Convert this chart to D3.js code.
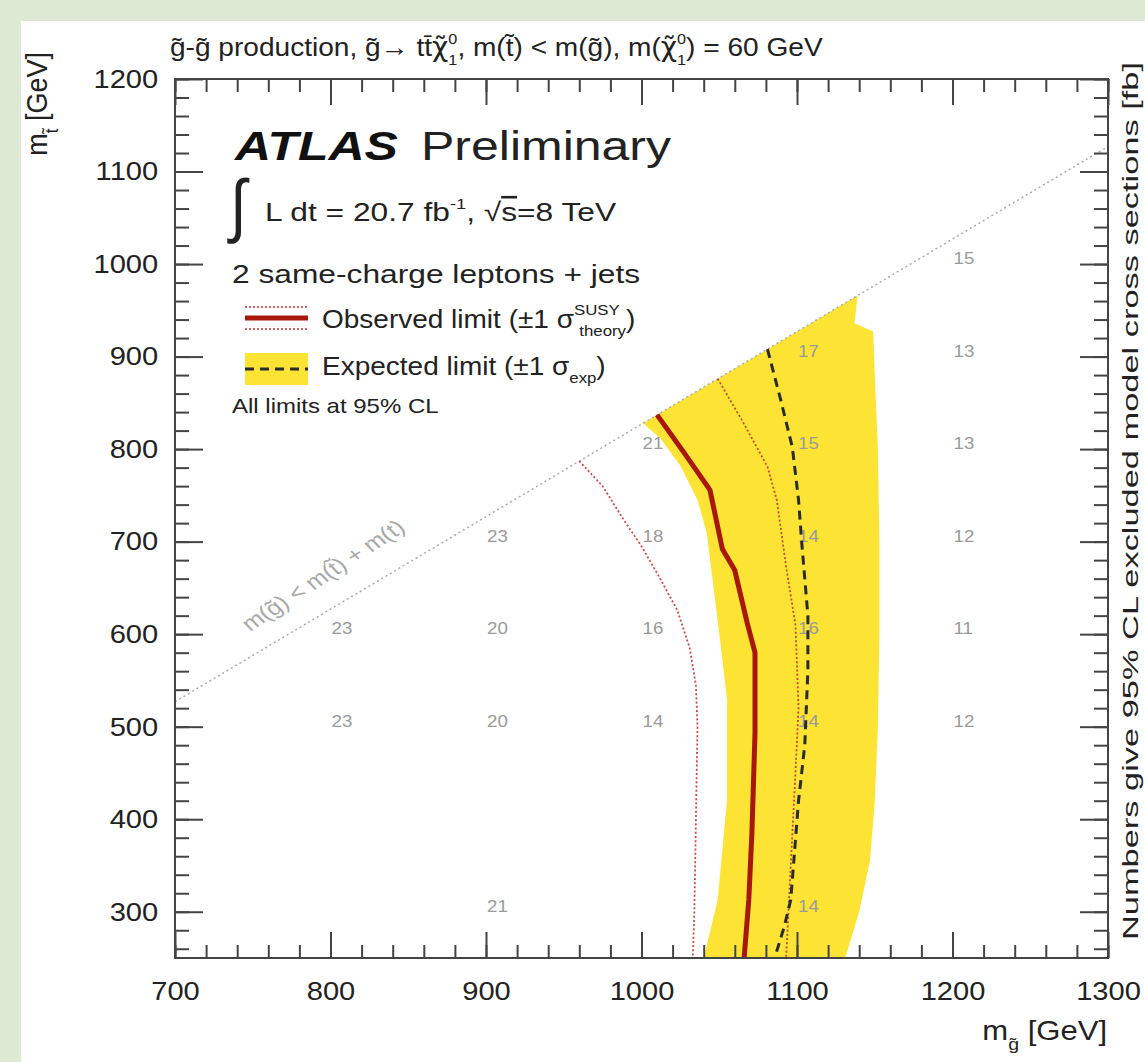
<!DOCTYPE html>
<html>
<head>
<meta charset="utf-8">
<script src="https://cdn.jsdelivr.net/npm/d3@7"></script>
<style>
  body { margin: 0; background: #dee9d3; }
  text { font-family: "Liberation Sans", Arial, sans-serif; }
</style>
</head>
<body>
<svg id="chart" width="1145" height="1062"></svg>
<script>
// ---- data (GeV) ----
const xTicks = [700, 800, 900, 1000, 1100, 1200, 1300];
const yTicks = [300, 400, 500, 600, 700, 800, 900, 1000, 1100, 1200];
const topMass = 173; // kinematic edge m(gluino) = m(stop) + m(top)

// expected +-1 sigma band: left edge (top -> bottom), right edge (bottom -> top)
const bandLeft = [[1001, 828], [1012, 812], [1025, 782], [1036, 745], [1042, 709], [1046, 655],
  [1050, 601], [1055, 529], [1055, 421], [1049, 313], [1040, 250]];
const bandRight = [[1131, 250], [1140, 300], [1147, 356], [1150, 420], [1152, 500], [1153, 600],
  [1153, 700], [1152, 800], [1150, 880], [1149, 927], [1137, 936], [1139, 966]];

const observed = [[1010, 837], [1027, 797], [1044, 756], [1052, 692], [1060, 669], [1068, 612],
  [1073, 580], [1073, 493], [1071, 385], [1069, 313], [1066, 250]];
const observedUp = [[1049, 876], [1065, 830], [1081, 781], [1087, 745], [1093, 673], [1099, 610],
  [1101, 520], [1099, 450], [1096, 350], [1093, 250]];
const observedDown = [[960, 787], [975, 760], [988, 725], [1000, 695], [1012, 660], [1023, 626],
  [1031, 585], [1035, 545], [1036, 500], [1035, 400], [1034, 300], [1033, 250]];
const expected = [[1081, 908], [1090, 850], [1097, 802], [1101, 745], [1103, 700], [1107, 620],
  [1107, 560], [1105, 480], [1101, 420], [1096, 313], [1092, 285], [1086, 252]];

// excluded cross sections [fb] at (m_gluino, m_stop)
const xsecLabels = [
  [1200, 1000, 15],
  [1100, 900, 17], [1200, 900, 13],
  [1000, 800, 21], [1100, 800, 15], [1200, 800, 13],
  [900, 700, 23], [1000, 700, 18], [1100, 700, 14], [1200, 700, 12],
  [800, 600, 23], [900, 600, 20], [1000, 600, 16], [1100, 600, 16], [1200, 600, 11],
  [800, 500, 23], [900, 500, 20], [1000, 500, 14], [1100, 500, 14], [1200, 500, 12],
  [900, 300, 21], [1100, 300, 14]
];

// ---- drawing ----
const SX = 1.2; // the picture is stretched sideways, text too
const svg = d3.select("#chart");
svg.append("rect").attr("x", 21).attr("y", 21).attr("width", 1124).attr("height", 1041).attr("fill", "#fff");

const x = d3.scaleLinear().domain([700, 1300]).range([175, 1108]);
const y = d3.scaleLinear().domain([250, 1200]).range([958, 79]);

svg.append("clipPath").attr("id", "plot")
  .append("rect").attr("x", 175).attr("y", 79).attr("width", 933).attr("height", 879);
const plot = svg.append("g").attr("clip-path", "url(#plot)");

const line = d3.line().x(d => x(d[0])).y(d => y(d[1]));

// band
plot.append("path")
  .attr("d", line(bandLeft.concat(bandRight)) + "Z")
  .attr("fill", "#fde434");

// kinematic limit
plot.append("path")
  .attr("d", line([[700, 700 - topMass], [1300, 1300 - topMass]]))
  .attr("stroke", "#aaa").attr("stroke-width", 1.5).attr("stroke-dasharray", "2,3").attr("fill", "none");

// numbers
plot.selectAll("text.xs").data(xsecLabels).join("text")
  .attr("class", "xs")
  .attr("transform", d => `translate(${x(d[0]) + 1},${y(d[1])}) scale(1.1,1)`)
  .attr("font-size", 17).attr("fill", "#9a9a9a")
  .text(d => d[2]);

function curve(data, color, width, dash) {
  const p = plot.append("path").attr("d", line(data))
    .attr("fill", "none").attr("stroke", color).attr("stroke-width", width)
    .attr("stroke-linejoin", "round");
  if (dash) p.attr("stroke-dasharray", dash);
  return p;
}
curve(observedDown, "#cc4a46", 1.8, "2,2.2");
curve(observedUp, "#c44a32", 1.8, "2,2.2");
curve(expected, "#2b2b2b", 3, "9,6");
curve(observed, "#a8180a", 5);

// axes: major + minor ticks on all four sides
const axisColor = "#444";
function styleAxis(g) {
  g.select(".domain").remove();
  g.selectAll("line").attr("stroke", axisColor).attr("stroke-width", 2);
}
const xMinor = d3.range(700, 1301, 20);
const yMinor = d3.range(260, 1201, 20);

svg.append("g").attr("transform", "translate(0,958)")
  .call(d3.axisBottom(x).tickValues(xMinor).tickSize(-13).tickFormat("")).call(styleAxis);
svg.append("g").attr("transform", "translate(0,79)")
  .call(d3.axisTop(x).tickValues(xMinor).tickSize(-13).tickFormat("")).call(styleAxis);
svg.append("g").attr("transform", "translate(0,79)")
  .call(d3.axisTop(x).tickValues(xTicks).tickSize(-26).tickFormat("")).call(styleAxis);
svg.append("g").attr("transform", "translate(175,0)")
  .call(d3.axisLeft(y).tickValues(yMinor).tickSize(-14).tickFormat("")).call(styleAxis);
svg.append("g").attr("transform", "translate(1108,0)")
  .call(d3.axisRight(y).tickValues(yMinor).tickSize(-14).tickFormat("")).call(styleAxis);
svg.append("g").attr("transform", "translate(1108,0)")
  .call(d3.axisRight(y).tickValues(yTicks).tickSize(-28).tickFormat("")).call(styleAxis);

const xAxis = svg.append("g").attr("transform", "translate(0,958)")
  .call(d3.axisBottom(x).tickValues(xTicks).tickSize(-26).tickPadding(24).tickFormat(d3.format("d")))
  .call(styleAxis);
const yAxis = svg.append("g").attr("transform", "translate(175,0)")
  .call(d3.axisLeft(y).tickValues(yTicks).tickSize(-28).tickPadding(15).tickFormat(d3.format("d")))
  .call(styleAxis);
[xAxis, yAxis].forEach(g => g.selectAll("text")
  .attr("font-size", 26).attr("fill", "#222")
  .attr("font-family", "Liberation Sans, Arial, sans-serif")
  .attr("transform", "scale(1.12,1)"));

svg.append("rect").attr("x", 175).attr("y", 79).attr("width", 933).attr("height", 879)
  .attr("fill", "none").attr("stroke", axisColor).attr("stroke-width", 2);

// ---- text helpers ----
function label(x0, y0, size, o = {}) {
  let tr = `translate(${x0},${y0}) scale(${o.sx || SX},1)`;
  if (o.rotate) tr += ` rotate(${o.rotate})`;
  const t = svg.append("text").attr("transform", tr)
    .attr("font-size", size).attr("fill", o.fill || "#222")
    .attr("text-anchor", o.anchor || "start");
  if (o.weight) t.attr("font-weight", o.weight);
  if (o.italic) t.attr("font-style", "italic");
  if (o.family) t.attr("font-family", o.family);
  return t;
}
function span(t, s, attrs = {}) {
  const ts = t.append("tspan").text(s);
  Object.entries(attrs).forEach(([k, v]) => ts.attr(k, v));
  return ts;
}
// superscript stacked over subscript, then back to the baseline
function supSub(t, sup, sub, size, supW, up, down) {
  span(t, sup, { "font-size": size, dy: -up });
  span(t, sub, { "font-size": size, dx: -supW, dy: up + down });
  return -down;
}
const chiTilde = { "font-family": "DejaVu Sans" };

// title
const title = label(170, 56, 26, { sx: 1.08 });
span(title, "g\u0303-g\u0303 production, g\u0303\u2192 tt\u0304");
span(title, "\u03C7\u0303", chiTilde);
let back = supSub(title, "0", "1", 15, 8.3, 12, 9);
span(title, ", m(t\u0303) < m(g\u0303), m(", { dy: back });
span(title, "\u03C7\u0303", chiTilde);
back = supSub(title, "0", "1", 15, 8.3, 12, 9);
span(title, ") = 60 GeV", { dy: back });

// ATLAS label
label(235, 160, 40, { sx: 1.25, weight: "bold", italic: true, fill: "#111" }).text("ATLAS");
label(421, 160, 40, { sx: 1.25, fill: "#222" }).text("Preliminary");

label(230, 229, 70, { sx: 0.85, family: "DejaVu Sans", fill: "#222" }).text("\u222B");
const lumi = label(265, 221, 26, { sx: 1.22 });
span(lumi, "L dt = 20.7 fb");
span(lumi, "-1", { "font-size": 15, dy: -12 });
span(lumi, ", \u221A", { dy: 12 });
span(lumi, "s", { "text-decoration": "overline" });
span(lumi, "=8 TeV");

label(232, 283, 26, { sx: 1.22 }).text("2 same-charge leptons + jets");

// legend entries
const lx0 = 245, lx1 = 308;
svg.append("line").attr("x1", lx0).attr("x2", lx1).attr("y1", 318).attr("y2", 318)
  .attr("stroke", "#a8180a").attr("stroke-width", 5);
[307, 329].forEach(yy => svg.append("line").attr("x1", lx0).attr("x2", lx1).attr("y1", yy).attr("y2", yy)
  .attr("stroke", "#d06060").attr("stroke-width", 1.8).attr("stroke-dasharray", "2,2"));
const obsText = label(322, 328, 25, { sx: 1.12 });
span(obsText, "Observed limit (\u00B11 \u03C3");
back = supSub(obsText, "SUSY", "theory", 15, 36, 13, 8);
span(obsText, ")", { dy: back });

svg.append("rect").attr("x", lx0).attr("y", 353).attr("width", lx1 - lx0).attr("height", 32).attr("fill", "#fde434");
svg.append("line").attr("x1", lx0).attr("x2", lx1).attr("y1", 369).attr("y2", 369)
  .attr("stroke", "#2b2b2b").attr("stroke-width", 3).attr("stroke-dasharray", "9,6");
const expText = label(322, 375, 25, { sx: 1.12 });
span(expText, "Expected limit (\u00B11 \u03C3");
span(expText, "exp", { "font-size": 15, dy: 8 });
span(expText, ")", { dy: -8 });

label(232, 413, 20, { sx: 1.2 }).text("All limits at 95% CL");

// kinematic limit label
label(250, 632, 21, { rotate: -38, fill: "#a8a8a8" })
  .text("m(g\u0303) < m(t\u0303) + m(t)");

// axis titles
const xt = label(1107, 1040, 27, { anchor: "end", sx: 1.15 });
span(xt, "m");
span(xt, "g\u0303", { "font-size": 17, dy: 10 });
span(xt, " [GeV]", { dy: -10 });

const yt = label(47, 52, 27, { anchor: "end", rotate: -90, sx: 1.1 });
span(yt, "m");
span(yt, "t\u0303", { "font-size": 17, dy: 10 });
span(yt, " [GeV]", { dy: -10 });

label(1138, 62, 22, { anchor: "end", rotate: -90, sx: 1.0 })
  .attr("textLength", 878).attr("lengthAdjust", "spacingAndGlyphs")
  .text("Numbers give 95% CL excluded model cross sections [fb]");
</script>
</body>
</html>
